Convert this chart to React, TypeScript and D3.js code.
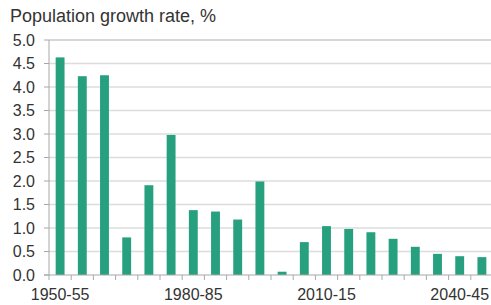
import React from "react";
import * as d3 from "d3";

const periods = [
  "1950-55", "1955-60", "1960-65", "1965-70", "1970-75", "1975-80", "1980-85", "1985-90",
  "1990-95", "1995-00", "2000-05", "2005-10", "2010-15", "2015-20", "2020-25", "2025-30",
  "2030-35", "2035-40", "2040-45", "2045-50",
];
const growthRates = [
  4.63, 4.23, 4.25, 0.8, 1.91, 2.98, 1.38, 1.35, 1.18, 1.99,
  0.07, 0.7, 1.04, 0.98, 0.91, 0.77, 0.6, 0.45, 0.4, 0.38,
];
const yTicks = [0, 0.5, 1, 1.5, 2, 2.5, 3, 3.5, 4, 4.5, 5];
const xLabels = ["1950-55", "1980-85", "2010-15", "2040-45"];
const title = "Population growth rate, %";

export default function App() {
  const W = 491, H = 305;
  const left = 49, right = 493, top = 40, bottom = 275;
  const x = d3.scaleBand<string>().domain(periods).range([left, right]).paddingInner(0.6).paddingOuter(0.3);
  const y = d3.scaleLinear().domain([0, 5]).range([bottom, top]);
  const font = "'Liberation Sans', Arial, sans-serif";
  const bounds = d3.range(periods.length + 1).map((i) => left + i * ((right - left) / periods.length));
  return (
    <svg width={W} height={H} style={{ position: "absolute", left: 0, top: 0, background: "#fff" }}>
      <text x={10} y={22} fontFamily={font} fontSize={18} fill="#333">{title}</text>
      {yTicks.map((t) => (
        <g key={t}>
          {t > 0 && (
            <line x1={left} x2={W} y1={y(t)} y2={y(t)} stroke={t === 5 ? "#c8c8c8" : "#dcdcdc"} strokeWidth={1.5} />
          )}
          <line x1={left - 5} x2={left} y1={y(t)} y2={y(t)} stroke="#a8a8a8" strokeWidth={1} />
          <text x={35} y={y(t)} dy="0.35em" textAnchor="end" fontFamily={font} fontSize={16} fill="#333">
            {t.toFixed(1)}
          </text>
        </g>
      ))}
      <line x1={left} x2={left} y1={top} y2={bottom} stroke="#a8a8a8" strokeWidth={1} />
      {periods.map((p, i) => (
        <rect key={p} x={x(p)} y={y(growthRates[i])} width={x.bandwidth()} height={bottom - y(growthRates[i])} fill="#26a07f" />
      ))}
      <line x1={left - 5} x2={W} y1={bottom} y2={bottom} stroke="#a8a8a8" strokeWidth={1.2} />
      {bounds.map((b, i) => (
        <line key={i} x1={b} x2={b} y1={bottom} y2={bottom + 5} stroke="#a8a8a8" strokeWidth={1} />
      ))}
      {xLabels.map((l) => (
        <text key={l} x={(x(l) as number) + x.bandwidth() / 2} y={300} textAnchor="middle" fontFamily={font} fontSize={16} fill="#333">
          {l}
        </text>
      ))}
    </svg>
  );
}
